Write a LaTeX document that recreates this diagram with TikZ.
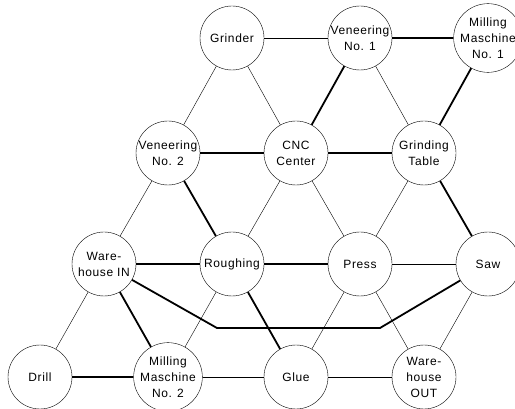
\documentclass[tikz,border=0pt]{standalone}
\usepackage{fontspec}
\setmainfont{Liberation Sans}[LetterSpace=5]

\tikzset{
    station/.style={circle, draw, thin, fill=white, minimum size=64pt, inner sep=0pt,
        align=center, font=\fontsize{12}{16}\selectfont},
    weak/.style={thin},
    strong/.style={line width=1.8pt}
}

\begin{document}
\begin{tikzpicture}[x=1pt, y=-1pt]
    \useasboundingbox (0,0) rectangle (515,409);

    % Stations
    \node[station] (grinder) at (232,38)  {Grinder};
    \node[station] (ven1)    at (360,38)  {Veneering\\No. 1};
    \node[station] (mill1)   at (488,38)  {Milling\\Maschine\\No. 1};
    \node[station] (ven2)    at (168,153) {Veneering\\No. 2};
    \node[station] (cnc)     at (296,153) {CNC\\Center};
    \node[station] (gtable)  at (424,153) {Grinding\\Table};
    \node[station] (whin)    at (104,264) {Ware-\\house IN};
    \node[station] (rough)   at (232,264) {Roughing};
    \node[station] (press)   at (360,264) {Press};
    \node[station] (saw)     at (488,264) {Saw};
    \node[station] (drill)   at (40,377)  {Drill};
    \node[station] (mill2)   at (168,377) {Milling\\Maschine\\No. 2};
    \node[station] (glue)    at (296,377) {Glue};
    \node[station] (whout)   at (424,377) {Ware-\\house\\OUT};

    % Bend points of the long path
    \coordinate (bendl) at (217,328);
    \coordinate (bendr) at (380,328);

    \begin{scope}[on background layer/.try]
    % Thin connections
    \foreach \a/\b in {grinder/ven1, grinder/ven2, grinder/cnc, ven1/gtable,
                       ven2/whin, cnc/rough, cnc/press, gtable/press,
                       press/saw, whin/drill, rough/mill2, press/glue,
                       press/whout, saw/whout, mill2/glue, glue/whout}
        \draw[weak] (\a) -- (\b);

    % Thick connections
    \foreach \a/\b in {ven1/mill1, ven1/cnc, mill1/gtable, ven2/cnc,
                       cnc/gtable, ven2/rough, gtable/saw, whin/rough,
                       rough/press, whin/mill2, rough/glue, drill/mill2}
        \draw[strong] (\a) -- (\b);

    \draw[strong] (whin) -- (bendl) -- (bendr) -- (saw);
    \end{scope}
\end{tikzpicture}
\end{document}
